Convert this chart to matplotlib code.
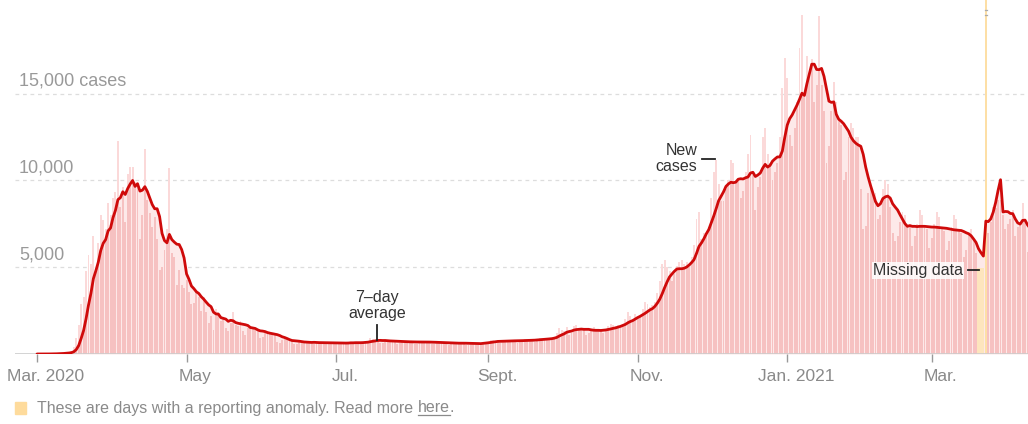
import numpy as np
import pandas as pd
import matplotlib
matplotlib.use('Agg')
import matplotlib.pyplot as plt
from matplotlib.patches import Rectangle
from matplotlib.transforms import ScaledTranslation

plt.rcParams['font.family'] = ['Liberation Sans', 'DejaVu Sans']

# daily new cases, one row per week starting Sun. Mar. 1, 2020
weeks = [
    [1, 0, 0, 1, 9, 12, 11],
    [16, 37, 43, 60, 46, 96, 107],
    [150, 400, 900, 1700, 2900, 3300, 4800],
    [5700, 5200, 6800, 4850, 6400, 8000, 7700],
    [7200, 8700, 8000, 9000, 9350, 12300, 8500],
    [9600, 7600, 10400, 10800, 10800, 9900, 9600],
    [6600, 8000, 11800, 8900, 8100, 7300, 7900],
    [6600, 4850, 5000, 6000, 7200, 10700, 5800],
    [5600, 4000, 4850, 4000, 3800, 4270, 3600],
    [2900, 2940, 3600, 3300, 2500, 3290, 2400],
    [1800, 2200, 1380, 2600, 2400, 1900, 2100],
    [1500, 1300, 1800, 2400, 1700, 1600, 1900],
    [1300, 1100, 1500, 1600, 1500, 1400, 1350],
    [900, 1000, 1300, 1200, 1250, 1200, 1150],
    [700, 650, 800, 900, 850, 750, 800],
    [600, 550, 700, 750, 700, 680, 720],
    [560, 600, 640, 700, 680, 650, 700],
    [550, 580, 600, 700, 650, 640, 680],
    [560, 600, 680, 700, 700, 620, 700],
    [600, 700, 750, 900, 850, 800, 850],
    [650, 640, 760, 800, 780, 750, 790],
    [600, 620, 700, 750, 740, 720, 760],
    [580, 600, 700, 740, 720, 720, 750],
    [560, 580, 650, 700, 690, 660, 700],
    [500, 560, 620, 680, 650, 660, 680],
    [500, 520, 600, 660, 640, 620, 650],
    [600, 650, 700, 800, 780, 750, 800],
    [640, 700, 760, 820, 800, 780, 820],
    [650, 720, 800, 850, 840, 820, 850],
    [700, 800, 900, 950, 920, 900, 920],
    [800, 1000, 1200, 1500, 1400, 1300, 1550],
    [1100, 1200, 1600, 1700, 1500, 1400, 1450],
    [1100, 1200, 1400, 1550, 1450, 1400, 1400],
    [1200, 1300, 1600, 1750, 1700, 1600, 1700],
    [1500, 1700, 2000, 2400, 2200, 2000, 2300],
    [2100, 2200, 2600, 3000, 2900, 2700, 2800],
    [3000, 3500, 4200, 5200, 5400, 5000, 4800],
    [4200, 4600, 5100, 5300, 5400, 5200, 5300],
    [5000, 5600, 6300, 7800, 8200, 6600, 7000],
    [7000, 7300, 9000, 10500, 11200, 9800, 8800],
    [8800, 9500, 10000, 11200, 11000, 10000, 10000],
    [9000, 9400, 10500, 11500, 12600, 10300, 8300],
    [9600, 10200, 12500, 13000, 11500, 11000, 10000],
    [10500, 11000, 12500, 15350, 17080, 15900, 12600],
    [12000, 13000, 14500, 17650, 19560, 15000, 17200],
    [16000, 17000, 14500, 15500, 19500, 15500, 14000],
    [11000, 12000, 14000, 15700, 14500, 13500, 13200],
    [10000, 10500, 12500, 13300, 13000, 12500, 12500],
    [9500, 7200, 7400, 9300, 9500, 9300, 9300],
    [7800, 8000, 9500, 10000, 9800, 8500, 7000],
    [6500, 6800, 7600, 8200, 8000, 7400, 7300],
    [6200, 6800, 7500, 8300, 8000, 7400, 7200],
    [6100, 6700, 7500, 8200, 7900, 7300, 7100],
    [6000, 6500, 7300, 8000, 7800, 7200, 7000],
    [5600, 6000, 6900, 7200, 6500, 5800, 4500],
    [4000, 4600, 21000, 7000, 7600, 8500, 8400],
    [8900, 8900, 8000, 7200, 7500, 7800, 8300],
    [6800, 7300, 7500, 8700, 7600, 5900, 7000],
]
# days with a reporting anomaly (days since Mar. 1, 2020)
missing_days = [384, 385, 386]
dump_days = [387]

tick_days = [0, 61, 122, 184, 245, 306, 365]
tick_labels = ['Mar. 2020', 'May', 'Jul.', 'Sept.', 'Nov.', 'Jan. 2021', 'Mar.']
grid_vals = [5000, 10000, 15000]
grid_labels = ['5,000', '10,000', '15,000 cases']

daily = np.array([v for w in weeks for v in w], dtype=float)
days = np.arange(len(daily))
avg = pd.Series(daily).rolling(7, min_periods=1).mean().values

anomaly = np.zeros(len(daily), dtype=bool)
anomaly[missing_days + dump_days] = True

fig = plt.figure(figsize=(10.28, 4.24), dpi=100)
ax = fig.add_axes([15 / 1028, 70 / 424, 1 - 15 / 1028, 354 / 424])
ax.set_xlim(-8.97, 404.2)
ax.set_ylim(0, 20400)

for v in grid_vals:
    ax.axhline(v, color='#dddddd', lw=0.9, ls=(0, (3, 3)), zorder=0)
ax.axhline(0, color='#cccccc', lw=1.2, zorder=5)

# light area under the average
ax.fill_between(days, 0, avg, color='#fde9e9', lw=0, zorder=1)
normal = ~anomaly
ax.bar(days[normal], daily[normal], width=0.78, color='#fbd9d9', lw=0, zorder=2)
ax.bar(days[normal], np.minimum(daily, avg)[normal], width=0.78, color='#f6c1c1', lw=0, zorder=3)
ax.bar(days[missing_days], [4950] * len(missing_days), width=0.9, color='#fde5bd', lw=0, zorder=2)
ax.bar(days[dump_days], daily[dump_days], width=0.9, color='#fddfa6', lw=0, zorder=2)
for d in dump_days:
    for yy in (19800, 19550):
        ax.plot([d - 0.45, d + 0.45], [yy, yy], color='#aaaaaa', lw=0.9, zorder=4)

ax.plot(days, avg, color='#cf0a0a', lw=2.0, zorder=6, solid_capstyle='round')

for sp in ax.spines.values():
    sp.set_visible(False)
ax.set_yticks([])
ax.set_xticks(tick_days, tick_labels)
ax.tick_params(axis='x', length=6, width=1, color='#999999', labelsize=12.5,
               labelcolor='#8a8a8a', pad=5)
for lab in ax.get_xticklabels():
    lab.set_horizontalalignment('center')
    lab.set_transform(lab.get_transform() + ScaledTranslation(0.09, 0, fig.dpi_scale_trans))

for v, t in zip(grid_vals, grid_labels):
    ax.annotate(t, (-7.3, v), xytext=(0, 3), textcoords='offset points',
                fontsize=13, color='#999999', va='bottom', ha='left')

# annotations
ax.text(138.7, 1900, '7\u2013day\naverage', ha='center', va='bottom', fontsize=11.5,
        color='#333333', linespacing=1.05, zorder=7)
ax.plot([138.7, 138.7], [1650, 820], color='#222222', lw=1.3, zorder=7)

ax.text(269.2, 11250, 'New\ncases', ha='right', va='center', fontsize=11.5,
        color='#333333', linespacing=1.05, zorder=7)
ax.plot([271.2, 276.5], [11240, 11240], color='#222222', lw=1.3, zorder=7)

ax.text(377.8, 4800, 'Missing data', ha='right', va='center', fontsize=11.5,
        color='#333333', zorder=7,
        bbox=dict(boxstyle='square,pad=0.05', fc='white', ec='none', alpha=0.85))
ax.plot([379.7, 384.3], [4840, 4840], color='#222222', lw=1.3, zorder=7)

# footnote
fig.patches.append(Rectangle((15 / 1028, 10 / 424), 11 / 1028, 12 / 424,
                             transform=fig.transFigure, color='#fedb9c'))
note = fig.text(37 / 1028, 16 / 424, 'These are days with a reporting anomaly. Read more ',
                fontsize=11.5, color='#8a8a8a', va='center', ha='left')
r = fig.canvas.get_renderer()
bb = note.get_window_extent(r)
here = fig.text(bb.x1 / 1028, 16 / 424, 'here', fontsize=11.5, color='#8a8a8a', va='center', ha='left')
bh = here.get_window_extent(r)
fig.text(bh.x1 / 1028, 16 / 424, '.', fontsize=11.5, color='#8a8a8a', va='center', ha='left')
fig.add_artist(plt.Line2D([bh.x0 / 1028, bh.x1 / 1028], [(bh.y0 + 1) / 424] * 2,
                          color='#8a8a8a', lw=0.9, transform=fig.transFigure))

fig.savefig('out.png', dpi=100)
